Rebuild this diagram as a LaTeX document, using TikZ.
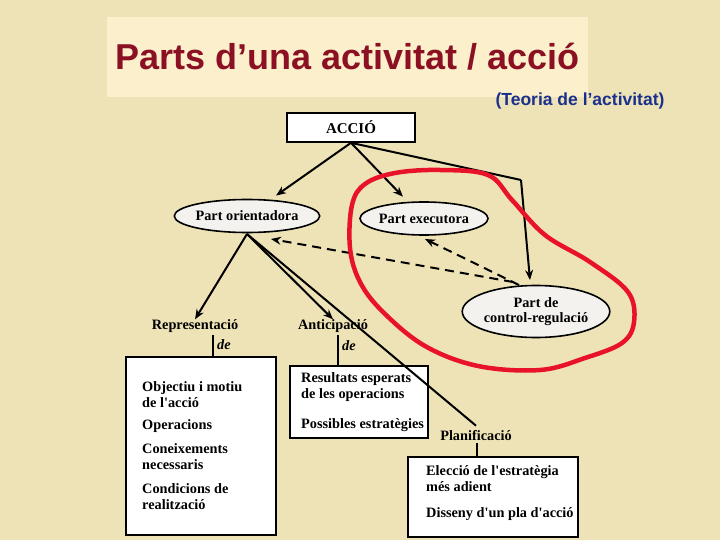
\documentclass[tikz,border=0pt]{standalone}
\usepackage{fontspec}
\setmainfont{Liberation Serif}
\newfontfamily\titlefont{Liberation Sans}
\usetikzlibrary{arrows.meta,shapes.geometric,calc}
\definecolor{bg}{HTML}{EEE3B6}
\definecolor{titlebg}{HTML}{FBF0CB}
\definecolor{titlered}{HTML}{8B1023}
\definecolor{subblue}{HTML}{1B2F8C}
\definecolor{ellfill}{HTML}{F3F2EE}
\definecolor{redline}{HTML}{E8132B}
\newcommand{\apos}{\textquotesingle}
\tikzset{
  lbl/.style={font=\bfseries\fontsize{14.3}{15}\selectfont, inner sep=0pt},
  ell/.style={ellipse, draw=black, line width=1.6pt, fill=ellfill, inner sep=0pt, font=\bfseries\fontsize{14.3}{15.5}\selectfont, align=center},
  whitebox/.style={draw=black, line width=1.6pt, fill=white, rectangle, inner sep=0pt},
  boxtext/.style={font=\bfseries\fontsize{14.3}{16}\selectfont, align=left, anchor=north west, inner sep=0pt},
  arr/.style={line width=2pt, -{Stealth[length=10pt,width=8pt]}},
  dasharr/.style={line width=2pt, dash pattern=on 9pt off 6pt, -{Stealth[length=10pt,width=8pt]}},
  plain/.style={line width=2pt},
  thin/.style={line width=1.4pt}
}
\begin{document}
\begin{tikzpicture}[x=1pt,y=-1pt]
\fill[bg] (0,0) rectangle (720,540);
\useasboundingbox (0,0) rectangle (720,540);
% title
\node[fill=titlebg, minimum width=481pt, minimum height=80pt, inner sep=0pt] (tbox) at (347.5,57) {};
\node[font=\titlefont\bfseries\fontsize{36}{38}\selectfont, text=titlered] (title) at (347.5,57) {Parts d’una activitat / acció};
\node[font=\titlefont\bfseries\fontsize{17.5}{19}\selectfont, text=subblue] (sub) at (580,101) {(Teoria de l’activitat)};

% main nodes
\node[whitebox, minimum width=128pt, minimum height=29pt, font=\bfseries\fontsize{15}{16}\selectfont] (accio) at (351,127.5) {ACCIÓ};
\node[ell, minimum width=134pt, minimum height=33pt] (orient) at (247,216) {Part orientadora};
\node[ell, minimum width=128pt, minimum height=33pt] (exec) at (424,218.5) {Part executora};
\node[ell, minimum width=146pt, minimum height=52pt] (ctrl) at (536,311.5) {Part de\\control-regulació};

% labels
\node[lbl] (rep) at (195,326) {Representació};
\node[font=\bfseries\itshape\fontsize{14.3}{15}\selectfont, inner sep=0pt, anchor=west] (de1) at (217,345) {de};
\node[lbl] (anti) at (333,326) {Anticipació};
\node[font=\bfseries\itshape\fontsize{14.3}{15}\selectfont, inner sep=0pt, anchor=west] (de2) at (342,346) {de};
\node[lbl] (plan) at (476,436) {Planificació};

% boxes
\node[whitebox, minimum width=150pt, minimum height=178pt] (repbox) at (201,446) {};
\node[boxtext] (reptext) at (142,381) {Objectiu i motiu\\de l\apos acció\\[6pt]Operacions\\[8pt]Coneixements\\necessaris\\[8pt]Condicions de\\realització};
\node[whitebox, minimum width=138pt, minimum height=72pt] (antibox) at (359,402) {};
\node[boxtext] (antitext) at (301,372) {Resultats esperats\\de les operacions\\[14pt]Possibles estratègies};
\node[whitebox, minimum width=170pt, minimum height=80pt] (planbox) at (493,497) {};
\node[boxtext] (plantext) at (426,465) {Elecció de l\apos estratègia\\més adient\\[10pt]Disseny d\apos un pla d\apos acció};

% connectors from ACCIO
\coordinate (bend) at (521,180);
\coordinate (ctrltop) at (530,280);
\draw[arr, shorten >=7pt] (accio.south) -- (orient);
\draw[arr, shorten >=7pt] (accio.south) -- (exec);
\draw[plain] (accio.south) -- (bend);
\draw[arr] (bend) -- (ctrltop);

% from Part orientadora
\coordinate (obot) at (247,234);
\draw[arr] (obot) -- (rep.north);
\draw[arr] (obot) -- (anti.north);
\draw[plain] (obot) -- ($(plan.north)+(0,-5)$);

% dashed feedback
\coordinate (c1) at (519,285);
\coordinate (c2) at (513,282);
\draw[dasharr] (c1) -- (425,239);
\draw[dasharr] (c2) -- (271,239);

% short vertical connectors
\draw[thin] (de1.west |- rep.south) ++(-4,2) -- ($(de1.west |- repbox.north)+(-4,0)$);
\draw[thin] (de2.west |- anti.south) ++(-4,2) -- ($(de2.west |- antibox.north)+(-4,0)$);
\draw[thin] (plan.south) ++(1,2) -- ($(plan.south |- planbox.north)+(1,0)$);

% red hand-drawn loop
\draw[redline, line width=4.5pt, line join=round] plot[smooth cycle, tension=0.6] coordinates {
  (352,205) (365,184) (395,173) (440,170) (488,175) (512,200) (545,235)
  (590,262) (628,292) (634,322) (622,343) (585,358) (540,370) (478,366)
  (425,346) (383,312) (360,282) (350,248)};
\end{tikzpicture}
\end{document}
